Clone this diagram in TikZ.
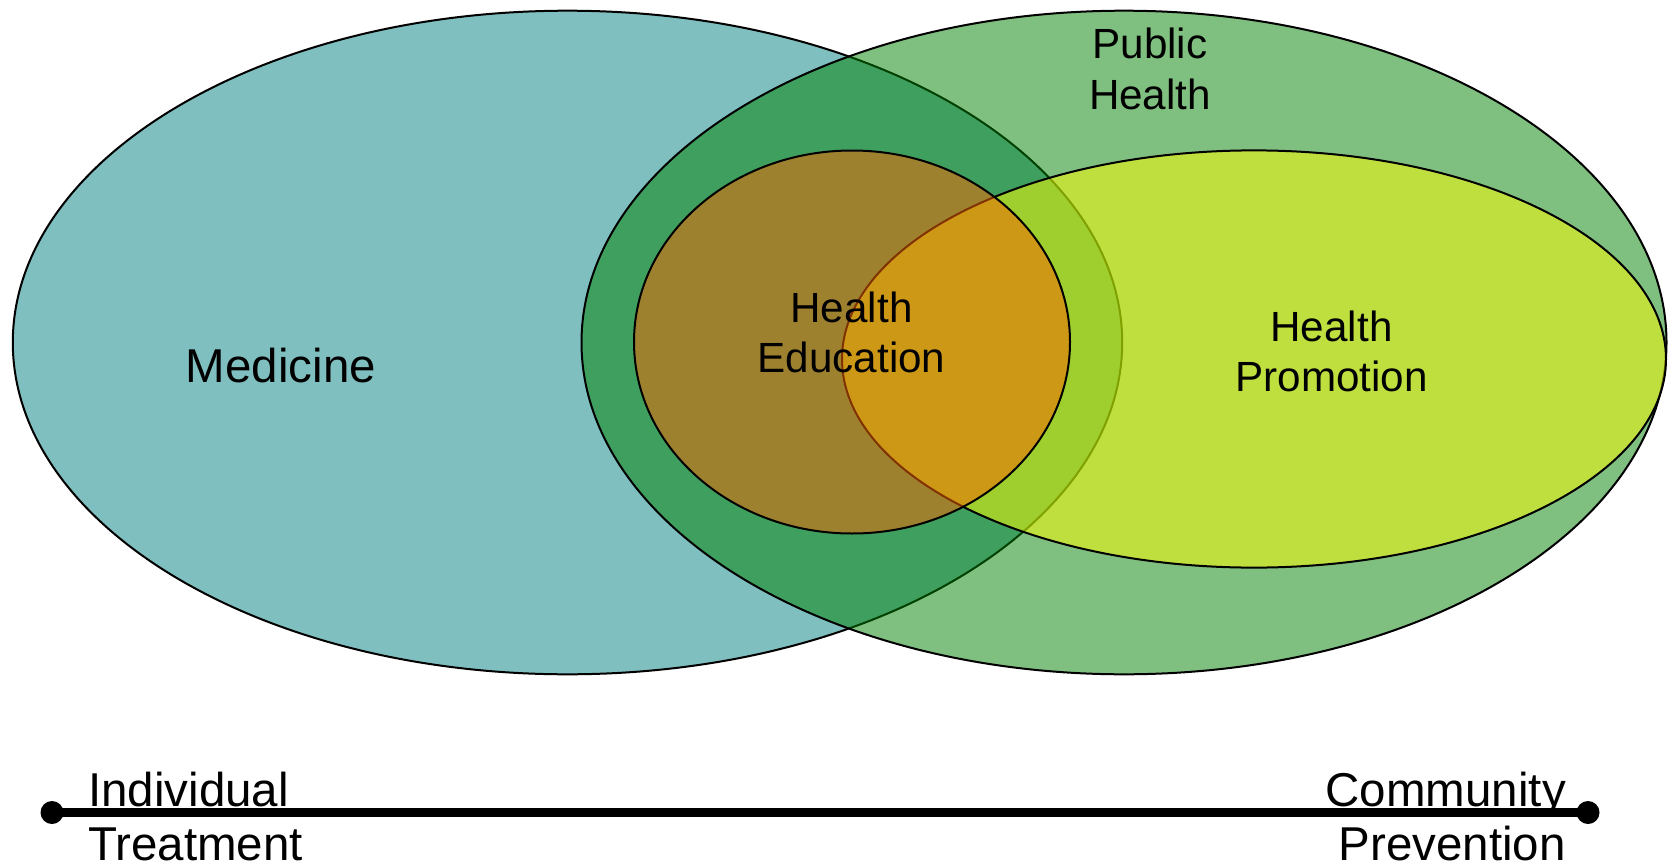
\documentclass[tikz,border=0pt]{standalone}
\usepackage{fontspec}
\setmainfont{Liberation Sans}
\begin{document}
\begin{tikzpicture}[x=1pt,y=-1pt,
  blob/.style={draw=black,line width=2pt,fill opacity=0.5},
  big/.style={inner sep=0pt,font=\fontsize{47.5}{57}\selectfont},
  small/.style={inner sep=0pt,font=\fontsize{42.2}{50.6}\selectfont},
  dotend/.style={circle,fill=black,inner sep=0pt,minimum size=23pt}]
\useasboundingbox (0,0) rectangle (1673,867);
\definecolor{medc}{RGB}{0,128,128}
\definecolor{phc}{RGB}{0,128,0}
\definecolor{hpc}{RGB}{255,255,0}
\definecolor{hec}{RGB}{255,100,0}
% ellipses
\draw[blob,fill=medc] (567.5,342.5) ellipse [x radius=554.7pt, y radius=331.8pt];
\draw[blob,fill=phc] (1124,342.5) ellipse [x radius=542.5pt, y radius=331.8pt];
\draw[blob,fill=hpc] (1254,359) ellipse [x radius=412pt, y radius=208.6pt];
\draw[blob,fill=hec] (852,342) ellipse [x radius=218pt, y radius=191.5pt];
% labels
\node[small,anchor=base] (ph1) at (1150,59) {Public};
\node[small,anchor=base] (ph2) at (1150,109) {Health};
\node[big,anchor=base] (med) at (281,382) {Medicine};
\node[small,anchor=base] (he1) at (851.5,322) {Health};
\node[small,anchor=base] (he2) at (851.5,372) {Education};
\node[small,anchor=base] (hp1) at (1331.5,341) {Health};
\node[small,anchor=base] (hp2) at (1331.5,391) {Promotion};
% axis
\node[dotend] (l) at (52,812.5) {};
\node[dotend] (r) at (1588,812.5) {};
\draw[line width=8.5pt] (l.center) -- (r.center);
\node[big,anchor=base west] (ind) at (88,806) {Individual};
\node[big,anchor=base west] (tre) at (88,860) {Treatment};
\node[big,anchor=base east] (com) at (1566,806) {Community};
\node[big,anchor=base east] (pre) at (1566,860) {Prevention};
\end{tikzpicture}
\end{document}
